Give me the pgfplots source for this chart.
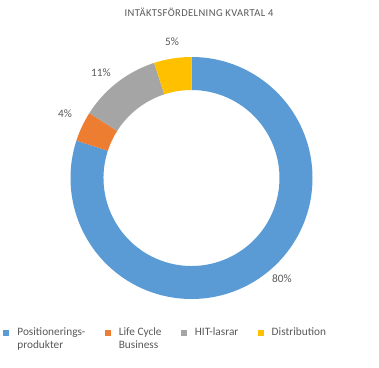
\documentclass[border=0pt]{standalone}
\usepackage{fontspec}
\setmainfont{Carlito}
\usepackage{pgfplots}
\usepackage{pgfplotstable}
\pgfplotsset{compat=1.18}
\definecolor{cBlue}{HTML}{5B9BD5}
\definecolor{cOrange}{HTML}{ED7D31}
\definecolor{cGray}{HTML}{A5A5A5}
\definecolor{cYellow}{HTML}{FFC000}
\definecolor{txt}{HTML}{595959}

\pgfplotstableread{
idx value
0 80
1 4
2 11
3 5
}\piedata

\newcommand\sector[3]{%
  \fill[#3] ([shift={(#1:121bp)}]axis cs:0,0) arc[start angle=#1,end angle=#2,radius=121bp]
    -- ([shift={(#2:88bp)}]axis cs:0,0) arc[start angle=#2,end angle=#1,radius=88bp] -- cycle;}

\begin{document}
\begin{tikzpicture}
\pgfplotstablegetelem{0}{value}\of\piedata \let\vA\pgfplotsretval
\pgfplotstablegetelem{1}{value}\of\piedata \let\vB\pgfplotsretval
\pgfplotstablegetelem{2}{value}\of\piedata \let\vC\pgfplotsretval
\pgfplotstablegetelem{3}{value}\of\piedata \let\vD\pgfplotsretval
\pgfmathsetmacro\aA{90}
\pgfmathsetmacro\aB{\aA-3.6*\vA}
\pgfmathsetmacro\aC{\aB-3.6*\vB}
\pgfmathsetmacro\aD{\aC-3.6*\vC}
\pgfmathsetmacro\aE{\aD-3.6*\vD}
\begin{axis}[
  x=1bp, y=1bp,
  xmin=-191.5, xmax=187.5, ymin=-190, ymax=178,
  hide axis, clip=false,
  legend columns=4,
  legend image code/.code={\fill[#1] (0bp,0.5bp) rectangle (5bp,5.5bp);},
  legend style={
    at={(axis cs:-188,-146.9)}, anchor=north west,
    draw=none, fill=none, inner sep=0pt, outer sep=0pt,
    font=\fontsize{11.3bp}{13bp}\selectfont, text=txt,
    cells={anchor=base west, inner sep=0pt},
    /tikz/every odd column/.append style={column sep=6.5bp},
    /tikz/every even column/.append style={column sep=17.5bp},
  },
]
\fill[white] (axis cs:-191.5,-190) rectangle (axis cs:187.5,178);
\sector{\aA}{\aB}{cBlue}
\sector{\aB}{\aC}{cOrange}
\sector{\aC}{\aD}{cGray}
\sector{\aD}{\aE}{cYellow}
\addlegendimage{cBlue}
\addlegendentry{\begin{tabular}[t]{@{}l@{}}Positionerings-\\produkter\end{tabular}}
\addlegendimage{cOrange}
\addlegendentry{\begin{tabular}[t]{@{}l@{}}Life Cycle\\Business\end{tabular}}
\addlegendimage{cGray}
\addlegendentry{\begin{tabular}[t]{@{}l@{}}HIT-lasrar\end{tabular}}
\addlegendimage{cYellow}
\addlegendentry{\begin{tabular}[t]{@{}l@{}}Distribution\end{tabular}}
\begin{scope}[every node/.style={text=txt, font=\fontsize{11.3bp}{13bp}\selectfont, anchor=base, inner sep=0pt}]
\node at (axis cs:90.5,-104) {80\%};
\node at (axis cs:-19.5,133) {5\%};
\node at (axis cs:-90.5,102) {11\%};
\node at (axis cs:-126.5,61) {4\%};
\node[font=\fontsize{10.5bp}{12bp}\selectfont\addfontfeature{LetterSpace=4}] at (axis cs:7.5,162) {INTÄKTSFÖRDELNING KVARTAL 4};
\end{scope}
\end{axis}
\end{tikzpicture}
\end{document}
